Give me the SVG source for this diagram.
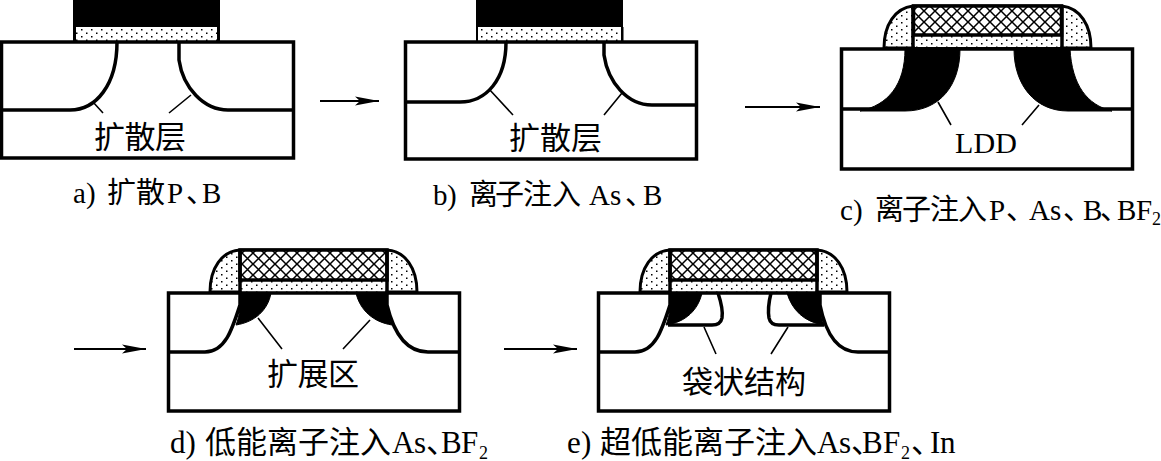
<svg xmlns="http://www.w3.org/2000/svg" width="1161" height="461" viewBox="0 0 1161 461">
<style>
text{font-family:"Liberation Serif","Noto Sans CJK SC",serif;fill:#000}
.cap{font-size:29px}
.big{font-size:31px}
.sub{font-size:18px}
.lab{font-size:31px}
.box{fill:#fff;stroke:#000;stroke-width:3.5}
.j{fill:none;stroke:#000;stroke-width:3.5}
.blk{fill:#000;stroke:#000;stroke-width:1}
.ox{fill:url(#dots);stroke:none}
.poly{fill:url(#hatch);stroke:#000;stroke-width:3.5}
.sp{fill:url(#dots);stroke:#000;stroke-width:3}
.edge{fill:none;stroke:#000;stroke-width:3.5}
.lead{fill:none;stroke:#000;stroke-width:1.6}
.arr{fill:none;stroke:#000;stroke-width:2;marker-end:url(#ah)}
</style>
<defs>
<pattern id="dots" width="10" height="7" patternUnits="userSpaceOnUse">
<rect width="10" height="7" fill="#fff"/>
<rect x="1" y="1" width="1.5" height="1.5" fill="#000"/>
<rect x="6" y="4.5" width="1.5" height="1.5" fill="#000"/>
</pattern>
<pattern id="hatch" width="11" height="11" patternUnits="userSpaceOnUse">
<rect width="11" height="11" fill="#fff"/>
<path d="M-1 -1L12 12M-1 12L12 -1" stroke="#000" stroke-width="1.5"/>
</pattern>
<marker id="ah" markerUnits="userSpaceOnUse" markerWidth="26" markerHeight="12" refX="24" refY="6" orient="auto">
<path d="M0 1.5L24 6L0 10.5L5 6Z" fill="#000"/>
</marker>
</defs>

<g id="panel-a">
<rect x="73" y="-4" width="147" height="31" fill="#000"/>
<rect x="73" y="27" width="3" height="14" fill="#000"/><rect x="217" y="27" width="3" height="14" fill="#000"/>
<rect class="ox" x="76" y="27" width="141" height="14"/>
<rect class="box" x="1.5" y="42" width="292" height="116"/>
<path class="j" d="M1 110H70C96 110 117 85 117 42"/>
<path class="j" d="M179 42V60C183 88 204 110 228 110H293"/>
<text class="lab" x="94" y="148" textLength="92">扩散层</text>
<text class="cap" y="203" x="73 86 100 107 136 167 186 202">a) 扩散P、B</text>
</g>

<g id="panel-b">
<rect x="476" y="-4" width="147" height="31" fill="#000"/>
<rect x="476" y="27" width="2.5" height="14" fill="#000"/><rect x="621" y="27" width="2.5" height="14" fill="#000"/>
<rect class="ox" x="478" y="27" width="143" height="14"/>
<rect class="box" x="405.5" y="42" width="291" height="117"/>
<path class="j" d="M405 102H460C486 102 506 80 506 42"/>
<path class="j" d="M604 42V55C608 82 627 105 652 105H697"/>
<text class="lab" x="509" y="149" textLength="93">扩散层</text>
<text class="cap" y="205" x="433 447 462 469 495 523 552 589 610 625 643">b) 离子注入As、B</text>
</g>

<g id="panel-c">
<path class="sp" d="M884 48C884 25 895 8 913 6H1062C1080 8 1091 25 1091 48Z"/>
<rect class="poly" x="913.5" y="6" width="148" height="29"/>
<rect class="ox" x="915" y="37" width="145" height="10"/>
<path class="edge" d="M913 6V48M1062 6V48"/>
<rect class="box" x="841.5" y="49" width="291" height="120"/>
<path class="j" d="M841 109H880M1095 109H1132"/>
<path class="blk" d="M905 49H960C960 85 940 111 905 111H860C888 105 905 85 905 49Z"/>
<path class="blk" d="M1014 49H1070C1072 85 1087 105 1112 111H1068C1035 111 1014 85 1014 49Z"/>
<text x="955" y="153" font-size="30" textLength="62">LDD</text>
<text class="cap" y="220" x="840 853 868 875 902 930 958 989 1006 1029 1050 1063 1083 1100 1117 1136">c) 离子注入P、As、B、BF<tspan class="sub" x="1152" dy="5">2</tspan></text>
</g>

<g id="panel-d">
<path class="sp" d="M210 292C210 268 222 251 240 250H387C405 251 417 268 417 292Z"/>
<rect class="poly" x="240" y="250" width="147" height="30"/>
<rect class="ox" x="241.5" y="282" width="144" height="10"/>
<path class="edge" d="M240 250V293M387 250V293"/>
<rect class="box" x="168.5" y="293" width="291" height="118"/>
<path class="j" d="M168 352H205C225 352 232 330 240 305V293"/>
<path class="j" d="M387 293V305C393 330 405 352 428 352H460"/>
<path class="blk" d="M240 293H271C268 310 255 322 236 325C240 315 241 305 240 293Z"/>
<path class="blk" d="M356 293H387C387 305 388 315 392 325C373 322 360 310 356 293Z"/>
<text class="lab" x="267" y="385" textLength="92">扩展区</text>
<text class="big" y="453" x="170 185.5 198 205 236 267 298 329 360 392 414 426 441 461">d) 低能离子注入As、BF<tspan class="sub" x="479" dy="6">2</tspan></text>
</g>

<g id="panel-e">
<path class="sp" d="M640 292C640 268 652 251 670 250H817C835 251 847 268 847 292Z"/>
<rect class="poly" x="670" y="250" width="147" height="30"/>
<rect class="ox" x="671.5" y="282" width="144" height="10"/>
<path class="edge" d="M670 250V293M817 250V293"/>
<rect class="box" x="598.5" y="293" width="291" height="118"/>
<path class="j" d="M598 352H635C655 352 662 330 670 305V293"/>
<path class="j" d="M820 293V305C825 330 835 352 858 352H890"/>
<path class="blk" d="M670 293H702C698 310 686 322 666 325C670 315 671 305 670 293Z"/>
<path class="blk" d="M787 293H819C820 305 820 315 824 325C804 322 792 310 787 293Z"/>
<path class="j" d="M718 293C722 305 723 312 722 318C721 323 717 325 712 325H668"/>
<path class="j" d="M771 293C768 305 768 312 769 318C770 323 774 325 779 325H824"/>
<text x="682" y="393" font-size="31" textLength="124">袋状结构</text>
<text class="big" y="453" x="567 581 594 600 631 662 693 724 755 786 817 839 851 862 883">e) 超低能离子注入As、BF<tspan class="sub" x="901" dy="6">2</tspan><tspan dy="-6" x="911 930 940">、In</tspan></text>
</g>

<g id="connectors">
<path class="lead" d="M93 102L103 113M191 95L169 113"/>
<path class="lead" d="M489 89L513 115M622 93L604 115"/>
<path class="lead" d="M938 102L951 125M1039 105L1022 125"/>
<path class="lead" d="M258 318L282 349M370 320L343 349"/>
<path class="lead" d="M704 327L716 354M788 327L771 354"/>
<path class="arr" d="M320 101H379"/>
<path class="arr" d="M745 107H820"/>
<path class="arr" d="M74 349H146"/>
<path class="arr" d="M504 349H577"/>
</g>
</svg>
